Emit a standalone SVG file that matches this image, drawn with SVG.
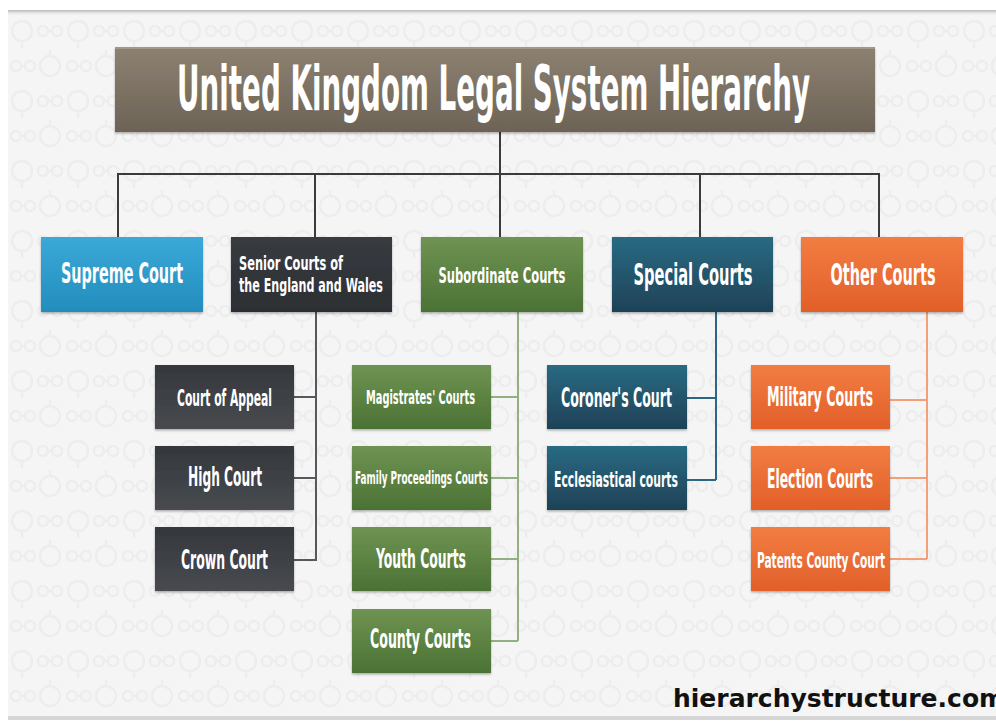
<svg xmlns="http://www.w3.org/2000/svg" width="996" height="725" viewBox="0 0 996 725">
<defs>
<style>
.t{font-family:"Liberation Sans Narrow","DejaVu Sans Condensed","Liberation Sans",sans-serif;font-weight:bold;fill:#ffffff;text-anchor:middle}
.ts{text-anchor:start}
.c{fill:none;stroke-width:2}
.box{filter:url(#sh)}
</style>
<filter id="sh" x="-10%" y="-10%" width="120%" height="130%">
<feDropShadow dx="0" dy="1.5" stdDeviation="1.2" flood-color="#000" flood-opacity="0.3"/>
</filter>
<linearGradient id="gTitle" x1="0" y1="0" x2="0" y2="1"><stop offset="0" stop-color="#8d8171"/><stop offset="1" stop-color="#6c6356"/></linearGradient>
<linearGradient id="gBlue" x1="0" y1="0" x2="0" y2="1"><stop offset="0" stop-color="#3aa9d8"/><stop offset="1" stop-color="#238dbd"/></linearGradient>
<linearGradient id="gDark" x1="0" y1="0" x2="0" y2="1"><stop offset="0" stop-color="#383b40"/><stop offset="1" stop-color="#2c2f33"/></linearGradient>
<linearGradient id="gDark2" x1="0" y1="0" x2="0" y2="1"><stop offset="0" stop-color="#34373c"/><stop offset="1" stop-color="#484b50"/></linearGradient>
<linearGradient id="gGreen" x1="0" y1="0" x2="0" y2="1"><stop offset="0" stop-color="#6f9352"/><stop offset="1" stop-color="#4b7234"/></linearGradient>
<linearGradient id="gTeal" x1="0" y1="0" x2="0" y2="1"><stop offset="0" stop-color="#296a82"/><stop offset="1" stop-color="#1e4257"/></linearGradient>
<linearGradient id="gOrange" x1="0" y1="0" x2="0" y2="1"><stop offset="0" stop-color="#f27d42"/><stop offset="1" stop-color="#e25f29"/></linearGradient>
<linearGradient id="gTop" x1="0" y1="0" x2="0" y2="1"><stop offset="0" stop-color="#b5b5b5"/><stop offset="1" stop-color="#f4f4f4" stop-opacity="0"/></linearGradient>
<pattern id="bg" x="8" y="14" width="56" height="70" patternUnits="userSpaceOnUse">
<g fill="none" stroke="#ededed" stroke-width="2.5">
<circle cx="14" cy="17" r="10"/>
<path d="M14 27 V34"/>
<circle cx="35" cy="17" r="5"/>
<circle cx="49" cy="17" r="5"/>
<path d="M40 17 H44"/>
<circle cx="8" cy="52" r="5"/>
<circle cx="22" cy="52" r="5"/>
<path d="M13 52 H17"/>
<circle cx="42" cy="52" r="10"/>
<path d="M42 36 V42"/>
</g>
</pattern>
</defs>

<rect x="0" y="0" width="996" height="725" fill="#ffffff"/>
<rect x="8" y="10" width="988" height="710" fill="#f5f5f5"/>
<rect x="8" y="10" width="988" height="710" fill="url(#bg)"/>
<rect x="8" y="10" width="988" height="6" fill="url(#gTop)"/>
<rect x="8" y="716" width="988" height="4" fill="#d6d6d6"/>

<g id="connectors">
<path class="c" stroke="#3b3b3b" d="M500 132 V174 M118 237 V174 H879 V237 M315 174 V237 M500 174 V237 M700 174 V237"/>
<path class="c" stroke="#55585c" d="M316 312 V561 M294 397 H316 M294 478 H316 M294 560 H316"/>
<path class="c" stroke="#93b083" d="M518 312 V641 M491 397 H518 M491 478 H518 M491 559 H518 M491 641 H518"/>
<path class="c" stroke="#2f6584" d="M716 312 V480 M687 398 H716 M687 480 H716"/>
<path class="c" stroke="#f1a07a" d="M927 312 V559 M890 400 H927 M890 478 H927 M890 559 H927"/>
</g>

<g id="title">
<rect class="box" x="115" y="47" width="760" height="85" fill="url(#gTitle)"/>
<rect x="115" y="47" width="760" height="2" fill="#a29888"/>
<text class="t ts" x="177" y="110" font-size="62" textLength="633" lengthAdjust="spacingAndGlyphs">United Kingdom Legal System Hierarchy</text>
</g>

<g id="supreme">
<rect class="box" x="41" y="237" width="162" height="75" fill="url(#gBlue)"/>
<text class="t" x="122" y="283" font-size="29" textLength="122" lengthAdjust="spacingAndGlyphs">Supreme Court</text>
</g>
<g id="senior">
<rect class="box" x="231" y="237" width="161" height="75" fill="url(#gDark)"/>
<text class="t ts" x="239" y="270" font-size="20" textLength="104" lengthAdjust="spacingAndGlyphs">Senior Courts of</text>
<text class="t ts" x="239" y="292" font-size="20" textLength="144" lengthAdjust="spacingAndGlyphs">the England and Wales</text>
</g>
<g id="subordinate">
<rect class="box" x="421" y="237" width="162" height="75" fill="url(#gGreen)"/>
<text class="t" x="502" y="283" font-size="22" textLength="127" lengthAdjust="spacingAndGlyphs">Subordinate Courts</text>
</g>
<g id="special">
<rect class="box" x="612" y="237" width="161" height="75" fill="url(#gTeal)"/>
<text class="t" x="693" y="285" font-size="30" textLength="119" lengthAdjust="spacingAndGlyphs">Special Courts</text>
</g>
<g id="other">
<rect class="box" x="801" y="237" width="162" height="75" fill="url(#gOrange)"/>
<text class="t" x="883" y="285" font-size="30" textLength="105" lengthAdjust="spacingAndGlyphs">Other Courts</text>
</g>

<g id="court-of-appeal">
<rect class="box" x="155" y="365" width="139" height="64" fill="url(#gDark2)"/>
<text class="t" x="224.5" y="406" font-size="23" textLength="95" lengthAdjust="spacingAndGlyphs">Court of Appeal</text>
</g>
<g id="high-court">
<rect class="box" x="155" y="446" width="139" height="64" fill="url(#gDark2)"/>
<text class="t" x="225" y="486" font-size="27" textLength="74" lengthAdjust="spacingAndGlyphs">High Court</text>
</g>
<g id="crown-court">
<rect class="box" x="155" y="527" width="139" height="64" fill="url(#gDark2)"/>
<text class="t" x="224.5" y="569" font-size="27" textLength="87" lengthAdjust="spacingAndGlyphs">Crown Court</text>
</g>

<g id="magistrates">
<rect class="box" x="352" y="365" width="139" height="64" fill="url(#gGreen)"/>
<text class="t" x="420.5" y="404" font-size="20" textLength="109" lengthAdjust="spacingAndGlyphs">Magistrates' Courts</text>
</g>
<g id="family">
<rect class="box" x="352" y="446" width="139" height="64" fill="url(#gGreen)"/>
<text class="t" x="421.5" y="484" font-size="17" textLength="133" lengthAdjust="spacingAndGlyphs">Family Proceedings Courts</text>
</g>
<g id="youth">
<rect class="box" x="352" y="527" width="139" height="64" fill="url(#gGreen)"/>
<text class="t" x="421" y="568" font-size="27" textLength="90" lengthAdjust="spacingAndGlyphs">Youth Courts</text>
</g>
<g id="county">
<rect class="box" x="352" y="609" width="139" height="64" fill="url(#gGreen)"/>
<text class="t" x="420.5" y="648" font-size="27" textLength="101" lengthAdjust="spacingAndGlyphs">County Courts</text>
</g>

<g id="coroners">
<rect class="box" x="547" y="365" width="140" height="64" fill="url(#gTeal)"/>
<text class="t" x="616.5" y="407" font-size="27" textLength="111" lengthAdjust="spacingAndGlyphs">Coroner's Court</text>
</g>
<g id="ecclesiastical">
<rect class="box" x="547" y="446" width="140" height="64" fill="url(#gTeal)"/>
<text class="t" x="616" y="487" font-size="22" textLength="124" lengthAdjust="spacingAndGlyphs">Ecclesiastical courts</text>
</g>

<g id="military">
<rect class="box" x="751" y="365" width="139" height="64" fill="url(#gOrange)"/>
<text class="t" x="820" y="406" font-size="27" textLength="106" lengthAdjust="spacingAndGlyphs">Military Courts</text>
</g>
<g id="election">
<rect class="box" x="751" y="446" width="139" height="64" fill="url(#gOrange)"/>
<text class="t" x="820" y="488" font-size="27" textLength="106" lengthAdjust="spacingAndGlyphs">Election Courts</text>
</g>
<g id="patents">
<rect class="box" x="751" y="527" width="139" height="64" fill="url(#gOrange)"/>
<text class="t" x="821" y="568" font-size="22" textLength="128" lengthAdjust="spacingAndGlyphs">Patents County Court</text>
</g>

<text x="673" y="707" font-family="'DejaVu Sans',Verdana,sans-serif" font-weight="bold" font-size="25" fill="#111111">hierarchystructure.com</text>
</svg>
